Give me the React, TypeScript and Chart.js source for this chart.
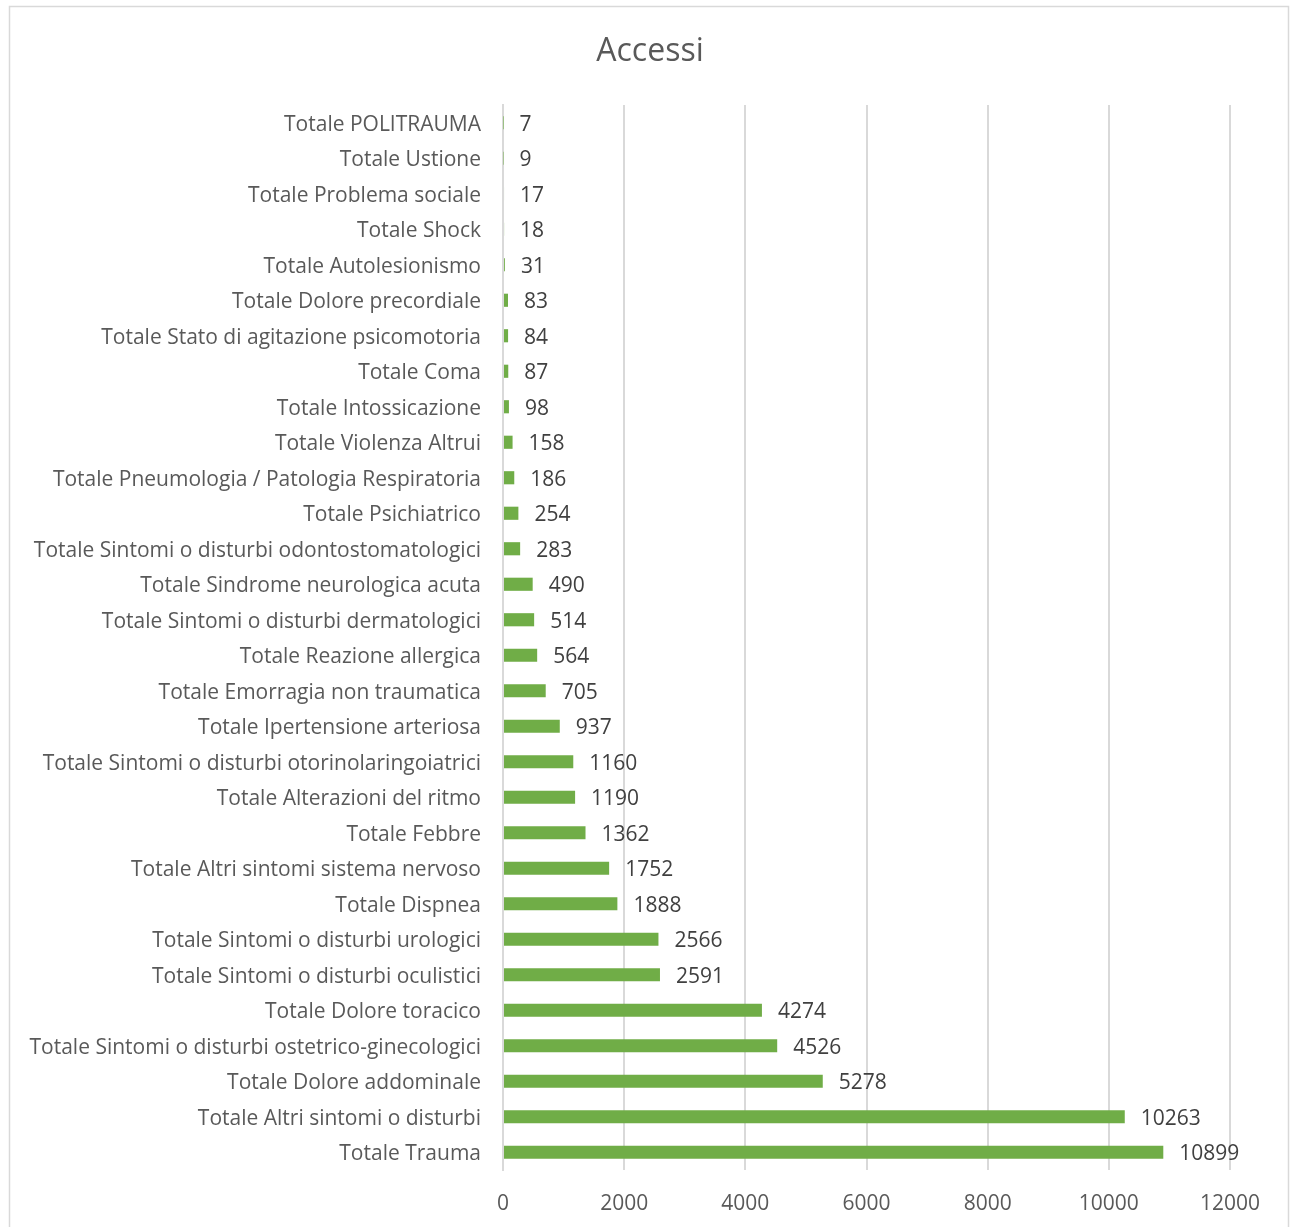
import React, { useEffect, useRef } from "react";
import { Chart, registerables } from "chart.js";

Chart.register(...registerables);

const categories = [
  "Totale POLITRAUMA",
  "Totale Ustione",
  "Totale Problema sociale",
  "Totale Shock",
  "Totale Autolesionismo",
  "Totale Dolore precordiale",
  "Totale Stato di agitazione psicomotoria",
  "Totale Coma",
  "Totale Intossicazione",
  "Totale Violenza Altrui",
  "Totale Pneumologia / Patologia Respiratoria",
  "Totale Psichiatrico",
  "Totale Sintomi o disturbi odontostomatologici",
  "Totale Sindrome neurologica acuta",
  "Totale Sintomi o disturbi dermatologici",
  "Totale Reazione allergica",
  "Totale Emorragia non traumatica",
  "Totale Ipertensione arteriosa",
  "Totale Sintomi o disturbi otorinolaringoiatrici",
  "Totale Alterazioni del ritmo",
  "Totale Febbre",
  "Totale Altri sintomi sistema nervoso",
  "Totale Dispnea",
  "Totale Sintomi o disturbi urologici",
  "Totale Sintomi o disturbi oculistici",
  "Totale Dolore toracico",
  "Totale Sintomi o disturbi ostetrico-ginecologici",
  "Totale Dolore addominale",
  "Totale Altri sintomi o disturbi",
  "Totale Trauma",
];

const accessi = [
  7, 9, 17, 18, 31, 83, 84, 87, 98, 158, 186, 254, 283, 490, 514, 564, 705, 937,
  1160, 1190, 1362, 1752, 1888, 2566, 2591, 4274, 4526, 5278, 10263, 10899,
];

const xTicks = [0, 2000, 4000, 6000, 8000, 10000, 12000];

const FONT = "'Open Sans', 'Noto Sans', sans-serif";

export default function App() {
  const ref = useRef<HTMLCanvasElement | null>(null);

  useEffect(() => {
    if (!ref.current) return;
    const decor = {
      id: "decor",
      beforeDraw(chart: any) {
        const ctx = chart.ctx;
        ctx.save();
        ctx.fillStyle = "#ffffff";
        ctx.fillRect(0, 0, chart.width, chart.height);
        ctx.strokeStyle = "#d9d9d9";
        ctx.lineWidth = 1.5;
        ctx.strokeRect(9.5, 6.5, 1279, 1240);
        ctx.fillStyle = "#595959";
        ctx.font = `32px ${FONT}`;
        ctx.textAlign = "center";
        ctx.textBaseline = "middle";
        ctx.fillText("Accessi", 650, 52);
        ctx.restore();
      },
      afterDatasetsDraw(chart: any) {
        const ctx = chart.ctx;
        const meta = chart.getDatasetMeta(0);
        ctx.save();
        ctx.fillStyle = "#404040";
        ctx.font = `21px ${FONT}`;
        ctx.textAlign = "left";
        ctx.textBaseline = "middle";
        meta.data.forEach((bar: any, i: number) => {
          ctx.fillText(String(accessi[i]), bar.x + 16, bar.y + 2);
        });
        ctx.restore();
      },
    };

    const chart = new Chart(ref.current, {
      type: "bar",
      data: {
        labels: categories,
        datasets: [
          {
            data: accessi,
            backgroundColor: "#70ad47",
            borderWidth: 0,
            categoryPercentage: 1,
            barPercentage: 0.37,
          },
        ],
      },
      options: {
        indexAxis: "y",
        responsive: false,
        animation: false,
        layout: { padding: { left: 0, right: 60, top: 105, bottom: 0 } },
        plugins: {
          legend: { display: false },
          title: { display: false },
          tooltip: { enabled: false },
        },
        scales: {
          x: {
            min: 0,
            max: 12000,
            afterBuildTicks(scale: any) {
              scale.ticks = xTicks.map((v) => ({ value: v }));
            },
            afterFit(scale: any) {
              scale.height = 57;
            },
            grid: { color: "#d9d9d9", lineWidth: 2, drawTicks: false },
            border: { display: false },
            ticks: {
              color: "#595959",
              font: { family: FONT, size: 21 },
              padding: 21,
              maxRotation: 0,
              callback: (v: any) => String(v),
            },
          },
          y: {
            afterFit(scale: any) {
              scale.width = 503;
            },
            grid: { display: false, drawTicks: false },
            border: { display: true, color: "#d9d9d9", width: 2 },
            ticks: {
              color: "#595959",
              font: { family: FONT, size: 21 },
              padding: 22,
              labelOffset: 2,
              autoSkip: false,
            },
          },
        },
      },
      plugins: [decor],
    });
    return () => chart.destroy();
  }, []);

  return (
    <div style={{ position: "absolute", left: 0, top: 0, width: 1290, height: 1227 }}>
      <canvas ref={ref} width={1290} height={1227} style={{ width: 1290, height: 1227, display: "block" }} />
    </div>
  );
}
